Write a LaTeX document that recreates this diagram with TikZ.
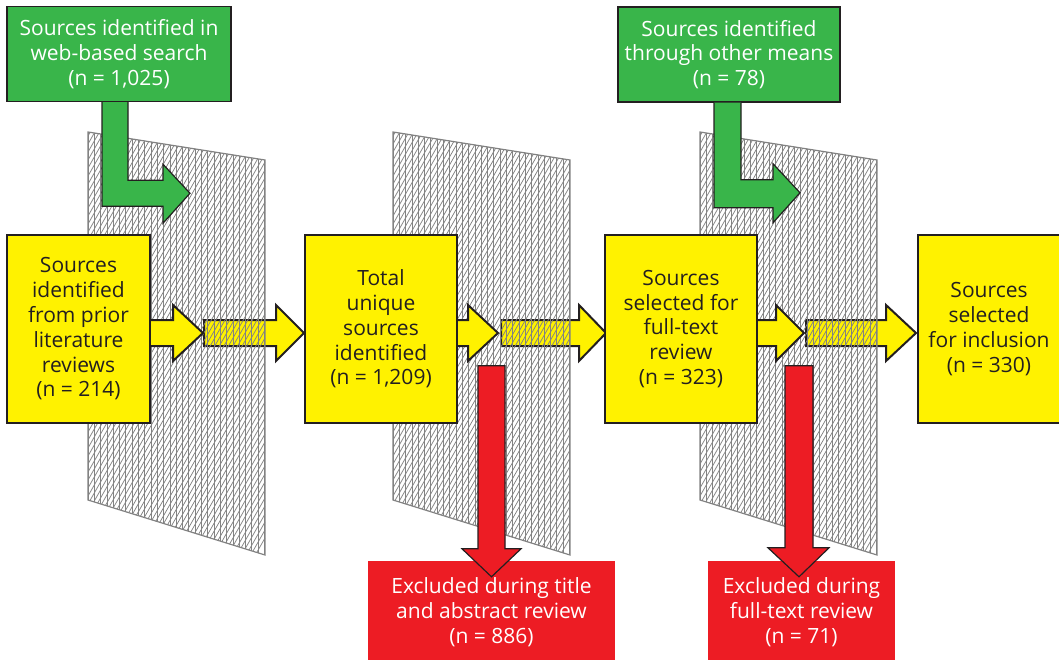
\documentclass[tikz,border=0pt]{standalone}
\usepackage{fontspec}
\setmainfont{Open Sans}
\usetikzlibrary{positioning,calc,backgrounds}
\definecolor{boxyellow}{RGB}{255,242,0}
\definecolor{boxgreen}{RGB}{57,181,74}
\definecolor{boxred}{RGB}{237,28,36}
\definecolor{outline}{RGB}{35,31,32}
\definecolor{meshgray}{RGB}{130,130,130}

\begin{document}
\begin{tikzpicture}[
    x=1pt, y=-1pt,
    font=\fontsize{21}{24.8}\selectfont,
    stagebox/.style={rectangle, draw=outline, fill=boxyellow, line width=2pt, minimum width=143pt, minimum height=188pt, align=center, text=outline, inner sep=0pt},
    sourcebox/.style={rectangle, draw=outline, fill=boxgreen, line width=1.5pt, minimum width=224pt, minimum height=95pt, align=center, text=white, inner sep=0pt},
    dropbox/.style={rectangle, fill=boxred, minimum height=102pt, align=center, text=white, inner sep=0pt},
    yarrow/.style={draw=outline, fill=boxyellow, line width=2pt, line join=miter},
    garrow/.style={draw=outline, fill=boxgreen, line width=1.2pt, line join=miter},
    rarrow/.style={draw=outline, fill=boxred, line width=1.2pt, line join=miter},
    mesh/.style={draw=meshgray, line width=0.75pt},
    meshedge/.style={draw=meshgray, line width=1.2pt}
]
\useasboundingbox (0,0) rectangle (1059,660);

% Stages
\node[stagebox] (prior) at (78.5,329) {Sources\\identified\\from prior\\literature\\reviews\\(n = 214)};
\node[stagebox, minimum width=152pt] (unique) at (381,329) {Total\\unique\\sources\\identified\\(n = 1,209)};
\node[stagebox, minimum width=152pt] (fulltext) at (681,329) {Sources\\selected for\\full-text\\review\\(n = 323)};
\node[stagebox] (included) at (989,329) {Sources\\selected\\for inclusion\\(n = 330)};

% Extra sources
\node[sourcebox] (websearch) at (119,54) {Sources identified in\\web-based search\\(n = 1,025)};
\node[sourcebox, minimum width=222pt] (othermeans) at (729,54.5) {Sources identified\\through other means\\(n = 78)};

% Exclusions
\node[dropbox, minimum width=247pt] (exclabstract) at (491.5,612) {Excluded during title\\and abstract review\\(n = 886)};
\node[dropbox, minimum width=187pt] (exclfulltext) at (801.5,612) {Excluded during\\full-text review\\(n = 71)};

\begin{pgfonlayer}{background}
% Arrows passing through the screens
\draw[yarrow] ($(prior.east)+(53,-9)$) -- ++(72,0) -- ++(0,-15) -- ++(28,28) -- ++(-28,28) -- ++(0,-15) -- ++(-72,0) -- cycle;
\draw[yarrow] ($(unique.east)+(43,-9)$) -- ++(78,0) -- ++(0,-15) -- ++(27,28) -- ++(-27,28) -- ++(0,-15) -- ++(-78,0) -- cycle;
\draw[yarrow] ($(fulltext.east)+(48,-9)$) -- ++(80,0) -- ++(0,-15) -- ++(30,28) -- ++(-30,28) -- ++(0,-15) -- ++(-80,0) -- cycle;

% Screens
\foreach \ox in {0,305,612} {
  \begin{scope}
    \clip (88+\ox,132) -- (265+\ox,160) -- (265+\ox,555) -- (88+\ox,500) -- cycle;
    \foreach \k in {0,...,28}
      \draw[mesh] (88+\ox+\k*6.3,120) -- ++(0,450);
    \foreach \k in {0,...,90}
      \draw[mesh] (88+\ox,128+\k*8) -- ++(177,-310);
  \end{scope}
  \draw[meshedge] (88+\ox,132) -- (265+\ox,160) -- (265+\ox,555) -- (88+\ox,500) -- cycle;
}
\end{pgfonlayer}

% Arrows into the screens
\draw[yarrow] ($(prior.east)+(0,-9)$) -- ++(22,0) -- ++(0,-15) -- ++(30,28) -- ++(-30,28) -- ++(0,-15) -- ++(-22,0);
\draw[yarrow] ($(unique.east)+(0,-9)$) -- ++(10,0) -- ++(0,-15) -- ++(30,28) -- ++(-30,28) -- ++(0,-15) -- ++(-10,0);
\draw[yarrow] ($(fulltext.east)+(0,-9)$) -- ++(18,0) -- ++(0,-15) -- ++(28,28) -- ++(-28,28) -- ++(0,-15) -- ++(-18,0);

% Added sources
\draw[garrow] ($(websearch.south)+(-17,0)$) -- ++(0,104) -- ++(61,0) -- ++(0,17) -- ++(27,-30) -- ++(-27,-29) -- ++(0,16) -- ++(-35,0) -- ++(0,-78);
\draw[garrow] ($(othermeans.south)+(-15,0)$) -- ++(0,105) -- ++(59,0) -- ++(0,15) -- ++(27,-30) -- ++(-27,-29) -- ++(0,16) -- ++(-32,0) -- ++(0,-77);

% Exclusions
\draw[rarrow] ($(exclabstract.north)+(-13.5,-195)$) -- ++(0,183) -- ++(-16,0) -- ++(29.5,28) -- ++(29.5,-28) -- ++(-16,0) -- ++(0,-183) -- cycle;
\draw[rarrow] ($(exclfulltext.north)+(-16.5,-195)$) -- ++(0,182) -- ++(-17,0) -- ++(31,29) -- ++(30,-29) -- ++(-16,0) -- ++(0,-182) -- cycle;

\end{tikzpicture}
\end{document}
